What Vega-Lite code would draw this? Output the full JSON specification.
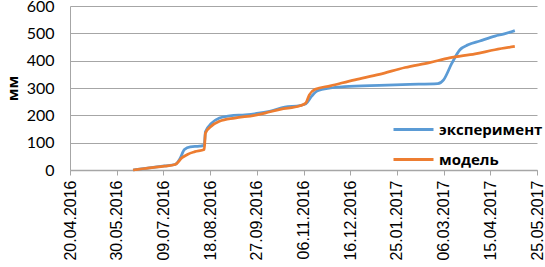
{
  "$schema": "https://vega.github.io/schema/vega-lite/v6.json",
  "width": 467,
  "height": 164,
  "autosize": {"type": "none"},
  "padding": {"left": 70, "top": 6, "right": 8, "bottom": 97},
  "background": "white",
  "config": {"view": {"stroke": null}},
  "data": {
    "values": [
      {"d": "2016-06-13", "s": "эксперимент", "v": 0},
      {"d": "2016-06-27", "s": "эксперимент", "v": 8},
      {"d": "2016-07-10", "s": "эксперимент", "v": 15},
      {"d": "2016-07-19", "s": "эксперимент", "v": 20},
      {"d": "2016-07-23", "s": "эксперимент", "v": 40},
      {"d": "2016-07-27", "s": "эксперимент", "v": 75},
      {"d": "2016-08-01", "s": "эксперимент", "v": 85},
      {"d": "2016-08-09", "s": "эксперимент", "v": 87},
      {"d": "2016-08-13", "s": "эксперимент", "v": 90},
      {"d": "2016-08-14", "s": "эксперимент", "v": 140},
      {"d": "2016-08-19", "s": "эксперимент", "v": 170},
      {"d": "2016-08-26", "s": "эксперимент", "v": 190},
      {"d": "2016-09-04", "s": "эксперимент", "v": 198},
      {"d": "2016-09-17", "s": "эксперимент", "v": 202},
      {"d": "2016-09-27", "s": "эксперимент", "v": 207},
      {"d": "2016-10-08", "s": "эксперимент", "v": 215},
      {"d": "2016-10-21", "s": "эксперимент", "v": 230},
      {"d": "2016-11-03", "s": "эксперимент", "v": 236},
      {"d": "2016-11-08", "s": "эксперимент", "v": 242},
      {"d": "2016-11-13", "s": "эксперимент", "v": 270},
      {"d": "2016-11-18", "s": "эксперимент", "v": 290},
      {"d": "2016-11-29", "s": "эксперимент", "v": 300},
      {"d": "2016-12-11", "s": "эксперимент", "v": 305},
      {"d": "2017-01-10", "s": "эксперимент", "v": 310},
      {"d": "2017-02-05", "s": "эксперимент", "v": 313},
      {"d": "2017-03-01", "s": "эксперимент", "v": 316},
      {"d": "2017-03-06", "s": "эксперимент", "v": 330},
      {"d": "2017-03-13", "s": "эксперимент", "v": 390},
      {"d": "2017-03-20", "s": "эксперимент", "v": 440},
      {"d": "2017-03-27", "s": "эксперимент", "v": 458},
      {"d": "2017-04-06", "s": "эксперимент", "v": 472},
      {"d": "2017-04-19", "s": "эксперимент", "v": 490},
      {"d": "2017-04-27", "s": "эксперимент", "v": 498},
      {"d": "2017-05-06", "s": "эксперимент", "v": 510},
      {"d": "2016-06-13", "s": "модель", "v": 0},
      {"d": "2016-06-27", "s": "модель", "v": 8},
      {"d": "2016-07-10", "s": "модель", "v": 14},
      {"d": "2016-07-19", "s": "модель", "v": 20},
      {"d": "2016-07-25", "s": "модель", "v": 45},
      {"d": "2016-07-30", "s": "модель", "v": 58},
      {"d": "2016-08-05", "s": "модель", "v": 67},
      {"d": "2016-08-13", "s": "модель", "v": 75},
      {"d": "2016-08-14", "s": "модель", "v": 135},
      {"d": "2016-08-19", "s": "модель", "v": 160},
      {"d": "2016-08-26", "s": "модель", "v": 178},
      {"d": "2016-09-08", "s": "модель", "v": 190},
      {"d": "2016-09-25", "s": "модель", "v": 200},
      {"d": "2016-10-04", "s": "модель", "v": 208},
      {"d": "2016-10-17", "s": "модель", "v": 222},
      {"d": "2016-11-03", "s": "модель", "v": 235},
      {"d": "2016-11-08", "s": "модель", "v": 245},
      {"d": "2016-11-11", "s": "модель", "v": 275},
      {"d": "2016-11-16", "s": "модель", "v": 295},
      {"d": "2016-11-29", "s": "модель", "v": 308},
      {"d": "2016-12-20", "s": "модель", "v": 330},
      {"d": "2017-01-10", "s": "модель", "v": 350},
      {"d": "2017-02-01", "s": "модель", "v": 375},
      {"d": "2017-02-22", "s": "модель", "v": 393},
      {"d": "2017-03-11", "s": "модель", "v": 410},
      {"d": "2017-04-02", "s": "модель", "v": 425},
      {"d": "2017-04-19", "s": "модель", "v": 440},
      {"d": "2017-05-06", "s": "модель", "v": 452}
    ]
  },
  "mark": {"type": "line", "strokeWidth": 2.75, "interpolate": "monotone"},
  "encoding": {
    "x": {
      "field": "d",
      "type": "temporal",
      "scale": {
        "type": "utc",
        "domain": [
          {"year": 2016, "month": 4, "date": 20, "utc": true},
          {"year": 2017, "month": 5, "date": 25, "utc": true}
        ]
      },
      "axis": {
        "title": null,
        "labelExpr": "utcFormat(datum.value, '%d.%m.%Y')",
        "values": [
          {"year": 2016, "month": 4, "date": 20, "utc": true},
          {"year": 2016, "month": 5, "date": 30, "utc": true},
          {"year": 2016, "month": 7, "date": 9, "utc": true},
          {"year": 2016, "month": 8, "date": 18, "utc": true},
          {"year": 2016, "month": 9, "date": 27, "utc": true},
          {"year": 2016, "month": 11, "date": 6, "utc": true},
          {"year": 2016, "month": 12, "date": 16, "utc": true},
          {"year": 2017, "month": 1, "date": 25, "utc": true},
          {"year": 2017, "month": 3, "date": 6, "utc": true},
          {"year": 2017, "month": 4, "date": 15, "utc": true},
          {"year": 2017, "month": 5, "date": 25, "utc": true}
        ],
        "labelAngle": -90,
        "labelAlign": "right",
        "labelBaseline": "middle",
        "labelFont": "Liberation Sans",
        "labelFontSize": 16,
        "labelColor": "#000000",
        "labelPadding": 5,
        "labelOverlap": false,
        "labelFlush": false,
        "grid": false,
        "domainColor": "#a6a6a6",
        "domainWidth": 1.5,
        "tickColor": "#a6a6a6",
        "tickSize": 5,
        "tickWidth": 1
      }
    },
    "y": {
      "field": "v",
      "type": "quantitative",
      "scale": {"domain": [0, 600], "nice": false},
      "axis": {
        "title": "мм",
        "titleFont": "Open Sans",
        "titleFontSize": 15,
        "titleFontWeight": "bold",
        "titleColor": "#000000",
        "titlePadding": 6,
        "values": [0, 100, 200, 300, 400, 500, 600],
        "labelFont": "Lato",
        "labelFontSize": 16,
        "labelColor": "#000000",
        "labelPadding": 16,
        "ticks": false,
        "domainColor": "#a6a6a6",
        "domainWidth": 1,
        "gridColor": "#a6a6a6",
        "gridWidth": 1
      }
    },
    "color": {
      "field": "s",
      "type": "nominal",
      "scale": {"domain": ["эксперимент", "модель"], "range": ["#5B9BD5", "#ED7D31"]},
      "legend": {
        "title": null,
        "orient": "none",
        "legendX": 322,
        "legendY": 102,
        "symbolType": "M-1,0H1",
        "symbolSize": 1600,
        "symbolStrokeWidth": 3,
        "labelFont": "Open Sans",
        "labelFontSize": 15,
        "labelFontWeight": "bold",
        "labelColor": "#000000",
        "labelOffset": 4,
        "rowPadding": -8
      }
    }
  }
}
